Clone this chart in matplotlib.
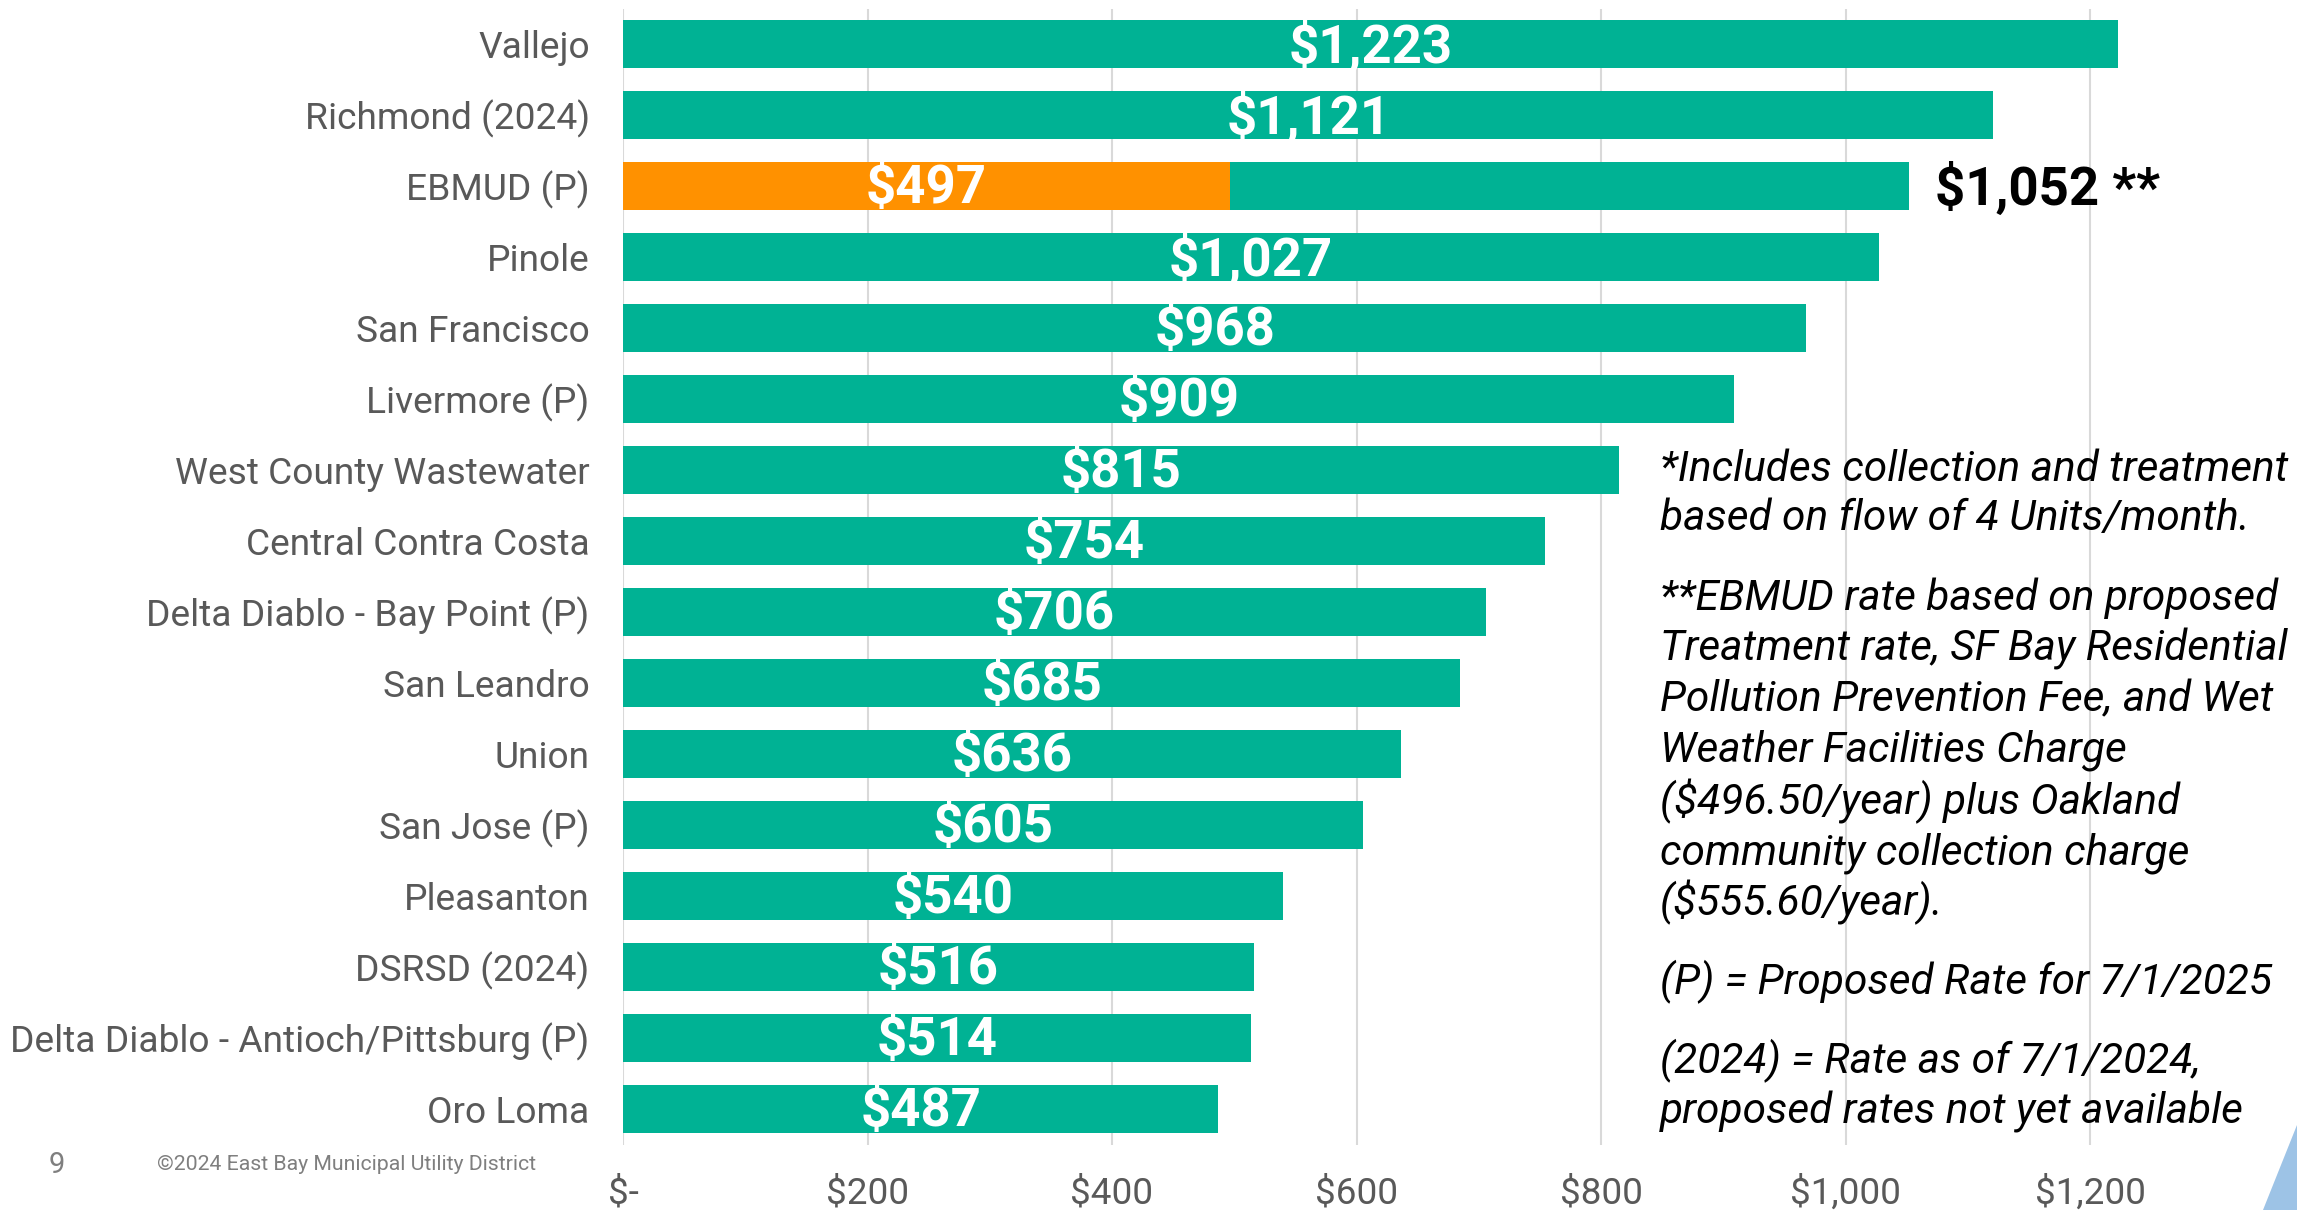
import matplotlib
matplotlib.use("Agg")
import matplotlib.pyplot as plt
from matplotlib.patches import Polygon

plt.rcParams['font.family'] = ['Roboto', 'DejaVu Sans']

# ---------------- data ----------------
categories = ["Vallejo", "Richmond (2024)", "EBMUD (P)", "Pinole", "San Francisco",
              "Livermore (P)", "West County Wastewater", "Central Contra Costa",
              "Delta Diablo - Bay Point (P)", "San Leandro", "Union", "San Jose (P)",
              "Pleasanton", "DSRSD (2024)", "Delta Diablo - Antioch/Pittsburg (P)", "Oro Loma"]
rates = [1223, 1121, 1052, 1027, 968, 909, 815, 754, 706, 685, 636, 605, 540, 516, 514, 487]
ebmud_treatment = 496.50
ebmud_collection = 555.60
ebmud_index = 2
xticks = [0, 200, 400, 600, 800, 1000, 1200]
xtick_labels = ["$-", "$200", "$400", "$600", "$800", "$1,000", "$1,200"]

notes = [
    ["*Includes collection and treatment", "based on flow of 4 Units/month."],
    ["**EBMUD rate based on proposed", "Treatment rate, SF Bay Residential",
     "Pollution Prevention Fee, and Wet", "Weather Facilities Charge",
     "($496.50/year) plus Oakland", "community collection charge", "($555.60/year)."],
    ["(P) = Proposed Rate for 7/1/2025"],
    ["(2024) = Rate as of 7/1/2024,", "proposed rates not yet available"],
]
note_y = [[469, 519], [598, 649, 700, 750, 801, 853, 902], [982], [1061, 1112]]

TEAL = "#00B294"
ORANGE = "#FF9100"
GRAY_TXT = "#595959"
GRID = "#D9D9D9"

W, H = 2297, 1210
fig = plt.figure(figsize=(W / 100, H / 100), dpi=100)
fig.patch.set_facecolor("white")

x0_px = 623
px_per = (1601 - 623) / 800.0
xmax = 1300
ax_top_px, ax_bot_px = 8.5, 1144.5
ax = fig.add_axes([x0_px / W, 1 - ax_bot_px / H, xmax * px_per / W, (ax_bot_px - ax_top_px) / H])

ypos = list(range(len(categories)))
bh = 0.69
dy = 0.04
for i, (c, v) in enumerate(zip(categories, rates)):
    if i == ebmud_index:
        ax.barh(i, ebmud_treatment, height=bh, color=ORANGE, zorder=2)
        ax.barh(i, ebmud_collection, left=ebmud_treatment, height=bh, color=TEAL, zorder=2)
        ax.text(ebmud_treatment / 2, i + dy, "$%d" % round(ebmud_treatment + 0.01), ha="center", va="center",
                color="white", fontsize=38, fontweight="bold", zorder=3)
        total = ebmud_treatment + ebmud_collection
        ax.text(total + 21, i + dy, "${:,.0f} **".format(total), ha="left", va="center",
                color="black", fontsize=38, fontweight="bold", zorder=3)
    else:
        ax.barh(i, v, height=bh, color=TEAL, zorder=2)
        ax.text(v / 2, i + dy, "${:,}".format(v), ha="center", va="center",
                color="white", fontsize=38, fontweight="bold", zorder=3)

ax.set_xlim(0, xmax)
ax.set_ylim(len(categories) - 0.5, -0.5)
ax.set_yticks(ypos)
ax.set_yticklabels(categories, fontsize=26.7, color=GRAY_TXT)
ax.set_xticks(xticks)
ax.set_xticklabels(xtick_labels, fontsize=26.6, color=GRAY_TXT)
ax.tick_params(axis="y", length=0, pad=24)
ax.tick_params(axis="x", length=0, pad=22)
for s in ax.spines.values():
    s.set_visible(False)
for t in xticks:
    ax.axvline(t, color=GRID, lw=1.5, zorder=1)
ax.set_facecolor("none")

# notes on the right
for para, ys in zip(notes, note_y):
    for line, y in zip(para, ys):
        fig.text(1660 / W, 1 - y / H, line, ha="left", va="center", fontsize=30.5,
                 style="italic", color="black")

# footer
fig.text(57 / W, 1 - 1165 / H, "9", ha="center", va="center", fontsize=21, color="#7F7F7F")
fig.text(157 / W, 1 - 1165 / H, "\u00a92024 East Bay Municipal Utility District", ha="left",
         va="center", fontsize=15.3, color="#7F7F7F")

# decorative corner shape
tri = Polygon([(2263 / W, 0), (2297 / W, 0), (2297 / W, 1 - 1125 / H)], closed=True,
              transform=fig.transFigure, facecolor="#9DC3E6", edgecolor="none")
fig.patches.append(tri)

fig.savefig("out.png", dpi=100, facecolor="white")
